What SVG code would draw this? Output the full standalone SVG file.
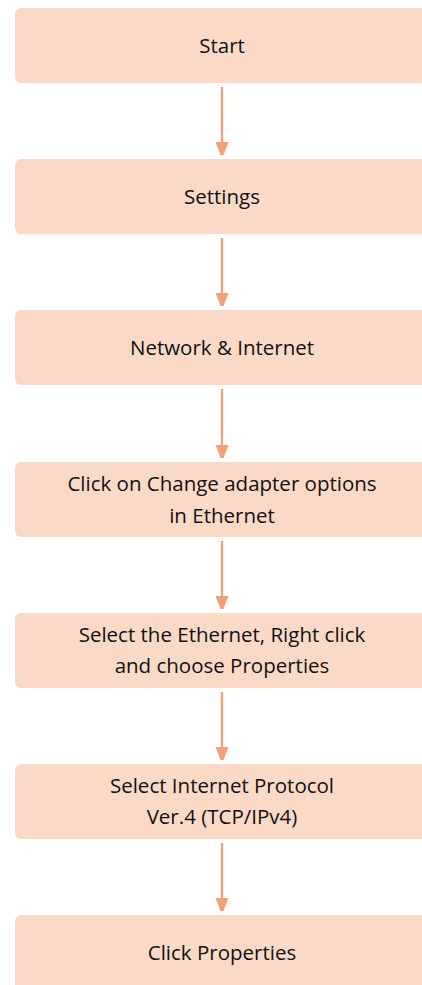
<svg xmlns="http://www.w3.org/2000/svg" width="422" height="985" viewBox="0 0 422 985">
<style>
.box{fill:#FADAC7;}
.t{font-family:"Open Sans","Noto Sans",sans-serif;font-size:20.5px;fill:#111;text-anchor:middle;}
.c{stroke:#F4A07B;stroke-width:2.3;fill:none;}
</style>
<defs>
<marker id="ah" viewBox="0 0 13 17" refX="13" refY="6.5" markerUnits="userSpaceOnUse" markerWidth="13" markerHeight="17" orient="auto">
<path d="M0,0 L17,6.5 L0,13 Z" fill="#F4A07B"/>
</marker>
</defs>
<rect width="422" height="985" fill="#fff"/>
<g id="n1"><rect class="box" x="15" y="8" width="420" height="75" rx="6"/><text class="t" x="222" y="53">Start</text></g>
<g id="n2"><rect class="box" x="15" y="159" width="420" height="75" rx="6"/><text class="t" x="222" y="204">Settings</text></g>
<g id="n3"><rect class="box" x="15" y="310" width="420" height="75" rx="6"/><text class="t" x="222" y="355">Network &amp; Internet</text></g>
<g id="n4"><rect class="box" x="15" y="462" width="420" height="75" rx="6"/><text class="t" x="222" y="491">Click on Change adapter options</text><text class="t" x="222" y="523">in Ethernet</text></g>
<g id="n5"><rect class="box" x="15" y="613" width="420" height="75" rx="6"/><text class="t" x="222" y="642">Select the Ethernet, Right click</text><text class="t" x="222" y="673">and choose Properties</text></g>
<g id="n6"><rect class="box" x="15" y="764" width="420" height="75" rx="6"/><text class="t" x="222" y="793">Select Internet Protocol</text><text class="t" x="222" y="824">Ver.4 (TCP/IPv4)</text></g>
<g id="n7"><rect class="box" x="15" y="915" width="420" height="80" rx="6"/><text class="t" x="222" y="960">Click Properties</text></g>
<g id="connectors">
<line class="c" x1="222" y1="87" x2="222" y2="155" marker-end="url(#ah)"/>
<line class="c" x1="222" y1="238" x2="222" y2="306" marker-end="url(#ah)"/>
<line class="c" x1="222" y1="389" x2="222" y2="458" marker-end="url(#ah)"/>
<line class="c" x1="222" y1="541" x2="222" y2="609" marker-end="url(#ah)"/>
<line class="c" x1="222" y1="692" x2="222" y2="760" marker-end="url(#ah)"/>
<line class="c" x1="222" y1="843" x2="222" y2="911" marker-end="url(#ah)"/>
</g>
</svg>
